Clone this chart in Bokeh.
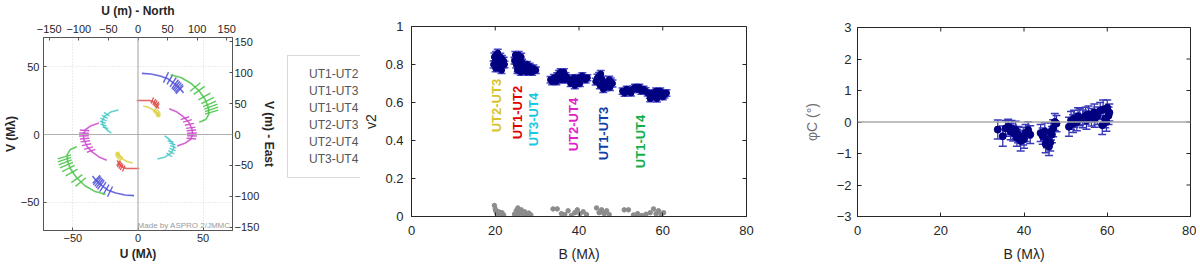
import math
from bokeh.plotting import figure
from bokeh.models import (Range1d, LinearAxis, Legend, LegendItem, Span, Label,
                          Whisker, TeeHead, ColumnDataSource, FixedTicker)
from bokeh.layouts import row, column
from bokeh.embed import file_html
from bokeh.resources import INLINE
from bokeh.core.properties import value

FONT = "Liberation Sans"
INK = "#262626"
LAMBDA_UM = 2.2   # metres -> Mlambda conversion (effective wavelength, micron)
FIG_H = 266

# ---------------------------------------------------------------- uv coverage
baselines = ["UT1-UT2", "UT1-UT3", "UT1-UT4", "UT2-UT3", "UT2-UT4", "UT3-UT4"]
uv_colors = ["#e04848", "#5050d8", "#48c448", "#dcd040", "#cc48cc", "#48c8c8"]

# tracks (one half of the plane, M lambda); the other half is the mirror image
track_u = [
    [-1, 4, 9, 12, 14.5, 16],
    [3, 10, 17, 23, 28, 32, 35],
    [25, 33, 41, 47, 51.5, 54, 54.5, 52, 47],
    [4, 8, 12, 15, 17],
    [24, 30, 35, 39, 41.5, 42, 40.5, 36, 30],
    [20.5, 24, 27, 27.5, 25.5, 21, 15],
]
track_v = [
    [25, 25, 25, 24, 21.5, 19],
    [45, 44.5, 43, 41, 37.5, 34, 30.5],
    [44, 42, 37.5, 32, 26, 20, 15, 11, 9],
    [21, 20, 18, 15, 13],
    [19, 16.5, 13, 9, 4, 0, -3.5, -6.5, -8.5],
    [-1, -3.5, -7, -10, -13.5, -16.5, -18],
]
# observation points (centre wavelength) on each track
obs_u = [
    [11, 12.5, 13.5, 14.5, 15],
    [21.5, 24.5, 27, 28.5, 29.5, 30.5, 31.5, 32],
    [44, 47, 51, 53.5, 55, 56, 56.5, 56.5],
    [13, 14, 15, 15.5, 16],
    [36, 38, 39.5, 40.5, 41, 41.5, 41.5, 41],
    [25, 26.5, 27, 26.5, 25.5, 24],
]
obs_v = [
    [25, 24, 23, 22, 21],
    [42, 40.5, 38.5, 37, 36, 35, 34, 33],
    [35, 32.5, 28, 25, 22.5, 20.5, 18.5, 16.5],
    [18, 17, 16, 15, 14],
    [12, 10, 7.5, 5, 3, 1, -1, -3],
    [-5, -7, -9, -11, -13, -15],
]
band_lo, band_hi = 0.91, 1.09   # spectral extent of each observation

# ---------------------------------------------------------------- V2 data
v2_b = [
    19.6, 19.8, 20.0, 20.2, 20.4, 20.6, 20.8, 21.0, 21.2, 21.4, 21.6, 21.8, 22.0, 22.2, 20.1, 20.9, 21.5,
    24.6, 24.8, 25.0, 25.2, 25.4, 25.6, 25.8, 26.0, 26.2, 26.4, 26.6, 26.8, 25.3, 26.1,
    27.0, 27.3, 27.6, 27.9, 28.2, 28.5, 28.8, 29.1, 29.4, 29.7, 27.5, 28.4,
    33.2, 33.6, 34.0, 34.4, 34.8, 35.2, 35.6, 36.0, 36.4, 36.8, 37.2, 37.6, 34.6, 35.8, 36.6,
    38.0, 38.4, 38.8, 39.2, 39.6, 40.0, 40.4, 40.8, 41.2, 41.6, 42.0, 39.0, 40.2,
    44.0, 44.4, 44.8, 45.2, 45.6, 46.0, 46.4, 46.8, 47.2, 47.6, 48.0, 45.0, 45.8, 46.6, 47.4,
    50.4, 50.9, 51.4, 51.9, 52.4, 52.9, 53.4, 53.9, 54.4, 54.9, 55.4, 55.9, 56.4, 56.9, 57.4,
    57.9, 58.4, 58.9, 59.4, 59.9, 60.4, 60.9, 57.0, 58.6, 60.0,
]
v2_val = [
    0.80, 0.84, 0.82, 0.85, 0.79, 0.86, 0.83, 0.81, 0.84, 0.79, 0.83, 0.80, 0.82, 0.80, 0.78, 0.78, 0.77,
    0.82, 0.85, 0.80, 0.84, 0.78, 0.85, 0.82, 0.79, 0.84, 0.81, 0.77, 0.80, 0.77, 0.76,
    0.79, 0.78, 0.80, 0.77, 0.79, 0.78, 0.76, 0.78, 0.77, 0.77, 0.76, 0.76,
    0.72, 0.71, 0.73, 0.72, 0.74, 0.75, 0.76, 0.75, 0.76, 0.74, 0.73, 0.72, 0.71, 0.72, 0.72,
    0.70, 0.71, 0.73, 0.72, 0.70, 0.73, 0.72, 0.74, 0.73, 0.72, 0.73, 0.69, 0.70,
    0.71, 0.73, 0.74, 0.75, 0.72, 0.70, 0.68, 0.70, 0.72, 0.71, 0.70, 0.69, 0.67, 0.69, 0.68,
    0.66, 0.65, 0.67, 0.66, 0.65, 0.67, 0.68, 0.67, 0.68, 0.66, 0.67, 0.66, 0.65, 0.64, 0.65,
    0.63, 0.66, 0.64, 0.66, 0.65, 0.64, 0.65, 0.62, 0.62, 0.63,
]
v2_err = [
    0.018, 0.020, 0.017, 0.019, 0.018, 0.020, 0.017, 0.018, 0.019, 0.017, 0.018, 0.019, 0.018, 0.017, 0.018, 0.017, 0.018,
    0.018, 0.019, 0.018, 0.020, 0.018, 0.019, 0.018, 0.017, 0.019, 0.018, 0.018, 0.017, 0.018, 0.017,
    0.016, 0.017, 0.016, 0.017, 0.016, 0.017, 0.016, 0.017, 0.016, 0.017, 0.016, 0.016,
    0.017, 0.016, 0.017, 0.016, 0.017, 0.018, 0.018, 0.017, 0.018, 0.017, 0.016, 0.017, 0.016, 0.017, 0.016,
    0.016, 0.017, 0.016, 0.017, 0.016, 0.017, 0.016, 0.017, 0.016, 0.017, 0.016, 0.017, 0.016,
    0.018, 0.019, 0.018, 0.019, 0.018, 0.019, 0.018, 0.019, 0.018, 0.019, 0.018, 0.018, 0.017, 0.018, 0.017,
    0.016, 0.017, 0.016, 0.017, 0.016, 0.017, 0.016, 0.017, 0.016, 0.017, 0.016, 0.017, 0.016, 0.017, 0.016,
    0.017, 0.016, 0.017, 0.016, 0.017, 0.016, 0.017, 0.016, 0.017, 0.016,
]
# grey points lying near zero
grey_b = [19.8, 20.1, 20.4, 20.8, 21.2, 21.6, 22.0, 20.0, 21.0,
          24.6, 25.0, 25.4, 25.8, 26.2, 26.6, 27.0, 27.5, 28.0, 28.5, 25.6,
          33.8, 34.8, 35.8, 36.6, 37.4, 38.2, 39.0, 39.6, 40.2, 41.0, 41.8,
          44.2, 44.8, 45.4, 46.0, 46.6, 47.2, 45.2,
          50.8, 51.8, 53.0, 54.0, 55.0, 56.0, 57.0, 57.8, 58.4, 59.0, 59.6, 60.2]
grey_val = [0.058, 0.030, 0.015, 0.025, 0.010, 0.020, 0.008, 0.040, 0.018,
            0.012, 0.030, 0.045, 0.020, 0.035, 0.015, 0.025, 0.010, 0.018, 0.008, 0.005,
            0.040, 0.040, 0.015, 0.010, 0.030, 0.005, 0.020, 0.035, 0.015, 0.025, 0.010,
            0.045, 0.020, 0.035, 0.015, 0.030, 0.010, 0.025,
            0.035, 0.035, 0.008, 0.015, 0.005, 0.012, 0.020, 0.040, 0.015, 0.030, 0.010, 0.020]

label_text = ["UT2-UT3", "UT1-UT2", "UT3-UT4", "UT2-UT4", "UT1-UT3", "UT1-UT4"]
label_b = [20.4, 25.2, 29.2, 38.7, 45.8, 54.8]
label_v = [0.584, 0.547, 0.51, 0.484, 0.437, 0.395]
label_colors = ["#d8c428", "#e00000", "#18c8e0", "#e020c8", "#1040a8", "#10b048"]

# ---------------------------------------------------------------- closure phase
cp_b = [33.7, 34.9, 35.6, 36.2, 36.8, 37.4, 38.0, 38.6, 39.2, 39.8, 40.4, 41.0, 41.5, 37.0, 38.3, 40.0,
        44.0, 44.5, 45.0, 45.5, 46.0, 46.3, 46.7, 47.0, 47.4, 47.8, 45.2, 46.5,
        50.8, 51.3, 52.0, 52.7, 53.4, 54.1, 54.8, 55.5, 56.2, 56.9, 57.6, 58.3, 59.0, 59.5,
        60.0, 60.5, 51.8, 53.0, 55.0, 57.0, 58.8, 59.8, 60.3]
cp_val = [-0.24, -0.45, -0.20, -0.15, -0.30, -0.35, -0.25, -0.40, -0.60, -0.45, -0.35, -0.25, -0.40, -0.20, -0.50, -0.55,
          -0.35, -0.45, -0.30, -0.55, -0.78, -0.65, -0.40, -0.20, 0.00, -0.05, -0.70, -0.30,
          -0.15, 0.05, 0.10, 0.00, 0.15, 0.10, 0.20, 0.25, 0.15, 0.30, 0.20, 0.35, 0.40, 0.10,
          0.45, 0.30, -0.05, 0.18, 0.05, 0.10, -0.10, 0.00, 0.20]
cp_err = [0.30, 0.32, 0.25, 0.24, 0.26, 0.25, 0.27, 0.26, 0.32, 0.28, 0.27, 0.26, 0.28, 0.25, 0.27, 0.28,
          0.27, 0.26, 0.28, 0.27, 0.28, 0.27, 0.26, 0.27, 0.27, 0.26, 0.28, 0.27,
          0.30, 0.28, 0.27, 0.28, 0.27, 0.28, 0.27, 0.26, 0.28, 0.27, 0.28, 0.27, 0.30, 0.28,
          0.25, 0.27, 0.28, 0.27, 0.28, 0.27, 0.30, 0.29, 0.28]

B_TICKS = [0, 20, 40, 60, 80]
V2_TICKS = [0, 0.2, 0.4, 0.6, 0.8, 1]
CP_TICKS = [-3, -2, -1, 0, 1, 2, 3]


def style_axis(ax, tick_size="13px", label_size="14px", bold=False, color=INK):
    ax.axis_line_color = color
    ax.major_tick_line_color = color
    ax.major_tick_in = 4
    ax.major_tick_out = 0
    ax.minor_tick_in = 0
    ax.minor_tick_out = 0
    ax.major_label_text_font = FONT
    ax.major_label_text_font_size = tick_size
    ax.major_label_text_color = INK
    ax.axis_label_text_font = FONT
    ax.axis_label_text_font_size = label_size
    ax.axis_label_text_color = INK
    ax.axis_label_text_font_style = "bold" if bold else "normal"


def mirror_ticks(p, xticks, yticks):
    # inward ticks on the top and right edges of the box (MATLAB style)
    ytop = p.y_range.end
    xright = p.x_range.end
    p.ray(x=xticks, y=[ytop for _ in xticks], length=4, length_units="screen",
          angle=-math.pi / 2, line_color=INK, line_width=1)
    p.ray(x=[xright for _ in yticks], y=yticks, length=4, length_units="screen",
          angle=math.pi, line_color=INK, line_width=1)


# ================================================================ panel 1: uv
U_MIN, U_MAX = -72.6, 72.6
V_MIN, V_MAX = -70.65, 71.4
p1 = figure(width=280, height=FIG_H, output_backend="svg", toolbar_location=None,
            title_location=None,
            x_range=Range1d(U_MIN, U_MAX), y_range=Range1d(V_MIN, V_MAX),
            min_border_left=36, min_border_right=48, min_border_top=34, min_border_bottom=36,
            x_axis_label="U (M\u03bb)", y_axis_label="V (M\u03bb)")
p1.extra_x_ranges = {"m": Range1d(U_MIN * LAMBDA_UM, U_MAX * LAMBDA_UM)}
p1.extra_y_ranges = {"m": Range1d(V_MIN * LAMBDA_UM, V_MAX * LAMBDA_UM)}
p1.xaxis.ticker = FixedTicker(ticks=[-50, 0, 50])
p1.yaxis.ticker = FixedTicker(ticks=[-50, 0, 50])
top_m = LinearAxis(x_range_name="m", axis_label="U (m) - North",
                   ticker=FixedTicker(ticks=[-150, -100, -50, 0, 50, 100, 150]))
right_m = LinearAxis(y_range_name="m", axis_label="V (m) - East",
                     ticker=FixedTicker(ticks=[-150, -100, -50, 0, 50, 100, 150]))
p1.add_layout(top_m, "above")
p1.add_layout(right_m, "right")
for ax in p1.xaxis + p1.yaxis:
    style_axis(ax, tick_size="11px", label_size="12px", bold=True, color="#555555")
    ax.major_tick_in = 3
    ax.major_label_standoff = 3
    ax.axis_label_standoff = 2
p1.yaxis[0].major_label_standoff = 4
p1.yaxis[0].axis_label_standoff = 0
top_m.axis_label_standoff = 6
p1.xaxis[0].major_label_standoff = 5
p1.xaxis[0].axis_label_standoff = 4
right_m.major_label_standoff = 2
right_m.axis_label_standoff = 0
p1.outline_line_color = "#555555"
p1.xgrid.ticker = FixedTicker(ticks=[-50, 50])
p1.ygrid.ticker = FixedTicker(ticks=[-50, 50])
p1.grid.grid_line_color = "#d8d8d8"
p1.grid.grid_line_dash = "1 2"
p1.add_layout(Span(location=0, dimension="height", line_color="#b0b0b0", line_width=1.2))
p1.add_layout(Span(location=0, dimension="width", line_color="#b0b0b0", line_width=1.2))

for i, name in enumerate(baselines):
    col = uv_colors[i]
    p1.line(track_u[i], track_v[i], line_color=col, line_width=1.6, line_alpha=0.85)
    p1.line([-u for u in track_u[i]], [-v for v in track_v[i]],
            line_color=col, line_width=1.6, line_alpha=0.85)
    for sgn in (1, -1):
        p1.segment(x0=[sgn * u * band_lo for u in obs_u[i]], y0=[sgn * v * band_lo for v in obs_v[i]],
                   x1=[sgn * u * band_hi for u in obs_u[i]], y1=[sgn * v * band_hi for v in obs_v[i]],
                   line_color=col, line_width=1.4, line_alpha=0.9)

p1.add_layout(Label(x=U_MAX, y=V_MIN, text="Made by ASPRO 2/JMMC", text_font=FONT,
                    text_font_size="8px", text_color="#9a9a9a", text_align="right",
                    text_baseline="bottom", x_offset=-2, y_offset=1))

# ---------------------------------------------------------------- legend panel
pl = figure(width=80, height=FIG_H, output_backend="svg", toolbar_location=None,
            title_location=None,
            x_range=Range1d(0, 1), y_range=Range1d(0, 1),
            x_axis_location=None, y_axis_location=None,
            min_border_left=0, min_border_right=0, min_border_top=0, min_border_bottom=0)
pl.outline_line_color = None
pl.grid.visible = False
legend_items = []
for i, name in enumerate(baselines):
    r = pl.line(x=[], y=[], line_color=uv_colors[i], line_width=1.6, line_alpha=0.45)
    legend_items.append(LegendItem(label=name, renderers=[r]))
legend = Legend(items=legend_items, location=(7, 88),
                label_text_font=FONT, label_text_font_size="12px", label_text_color="#555555",
                glyph_width=8, glyph_height=13, label_height=13, label_standoff=2,
                spacing=3, padding=11, margin=0, border_line_color="#b4b4b4",
                background_fill_color="white")
pl.add_layout(legend, "center")

# ================================================================ panel 2: V2
p2 = figure(width=440, height=FIG_H, output_backend="svg", toolbar_location=None,
            title_location=None,
            x_range=Range1d(0, 80), y_range=Range1d(0, 1),
            min_border_left=49, min_border_right=54, min_border_top=26, min_border_bottom=50,
            x_axis_label="B (M\u03bb)", y_axis_label="v2")
p2.xaxis.ticker = FixedTicker(ticks=B_TICKS)
p2.yaxis.ticker = FixedTicker(ticks=V2_TICKS)
for ax in p2.xaxis + p2.yaxis:
    style_axis(ax)
p2.xaxis.major_label_standoff = 9
p2.xaxis.axis_label_standoff = 8
p2.yaxis.major_label_standoff = 8
p2.yaxis.axis_label_standoff = 3
p2.grid.visible = False
p2.outline_line_color = INK
mirror_ticks(p2, B_TICKS, V2_TICKS)

p2.scatter(grey_b, grey_val, size=4.5, fill_color="#8c8c8c", line_color="#8c8c8c")
src2 = ColumnDataSource(dict(b=v2_b, v=v2_val,
                             lo=[v - e for v, e in zip(v2_val, v2_err)],
                             hi=[v + e for v, e in zip(v2_val, v2_err)]))
p2.add_layout(Whisker(base="b", lower="lo", upper="hi", source=src2, dimension="height",
                      line_color="#3434b4", line_width=1.2,
                      upper_head=TeeHead(size=8, line_color="#4848c8", line_width=1.5),
                      lower_head=TeeHead(size=8, line_color="#4848c8", line_width=1.5)))
p2.scatter("b", "v", source=src2, size=6, fill_color="#000080", line_color="#000080")
p2.text(x=label_b, y=label_v, text=label_text, angle=math.pi / 2,
        text_color=label_colors, text_font=value(FONT), text_font_style="bold",
        text_font_size="13px", text_align="center", text_baseline="middle")

# ================================================================ panel 3: closure phase
p3 = figure(width=396, height=FIG_H, output_backend="svg", toolbar_location=None,
            title_location=None,
            x_range=Range1d(0, 80), y_range=Range1d(-3, 3),
            min_border_left=53, min_border_right=6, min_border_top=27, min_border_bottom=50,
            x_axis_label="B (M\u03bb)", y_axis_label="\u03c6C (\u00b0)")
p3.xaxis.ticker = FixedTicker(ticks=B_TICKS)
p3.yaxis.ticker = FixedTicker(ticks=CP_TICKS)
for ax in p3.xaxis + p3.yaxis:
    style_axis(ax)
p3.xaxis.major_label_standoff = 9
p3.xaxis.axis_label_standoff = 8
p3.yaxis.major_label_standoff = 6
p3.yaxis.axis_label_standoff = 14
p3.yaxis.axis_label_text_color = "#6e6e6e"
p3.grid.visible = False
p3.outline_line_color = INK
mirror_ticks(p3, B_TICKS, CP_TICKS)
p3.add_layout(Span(location=0, dimension="width", line_color="#a8a8a8", line_width=1.6))

src3 = ColumnDataSource(dict(b=cp_b, v=cp_val,
                             lo=[v - e for v, e in zip(cp_val, cp_err)],
                             hi=[v + e for v, e in zip(cp_val, cp_err)]))
p3.add_layout(Whisker(base="b", lower="lo", upper="hi", source=src3, dimension="height",
                      line_color="#2a2aa8", line_width=1.2,
                      upper_head=TeeHead(size=8, line_color="#3a3ab8", line_width=1.5),
                      lower_head=TeeHead(size=8, line_color="#3a3ab8", line_width=1.5)))
p3.scatter("b", "v", source=src3, size=7, fill_color="#000080", line_color="#000080")

layout = row(column(p1), column(pl), column(p2), column(p3))
open("out.html", "w").write(file_html(layout, INLINE))
